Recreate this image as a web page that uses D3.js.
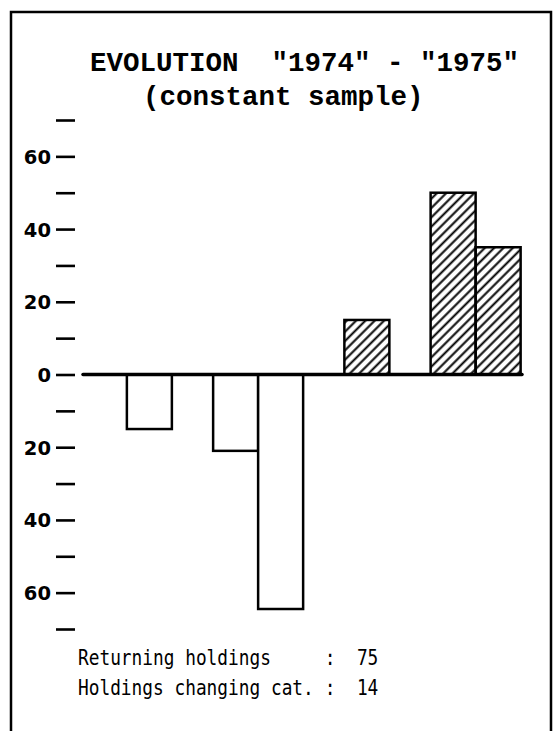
<!DOCTYPE html>
<html>
<head>
<meta charset="utf-8">
<script src="https://cdn.jsdelivr.net/npm/d3@7"></script>
<style>
  html, body { margin: 0; padding: 0; background: #fff; }
  svg { display: block; }
</style>
</head>
<body>
<div id="chart"></div>
<script>
// data
const categories = ["I", "II", "III", "IV"];
const firstSeries = [-15, -21, 15, 50];
const secondSeries = [null, -64.5, null, 35];

const tickValues = [70, 60, 50, 40, 30, 20, 10, 0, -10, -20, -30, -40, -50, -60, -70];
const tickLabels = [60, 40, 20, 0, -20, -40, -60];

const titleLines = ['EVOLUTION  "1974" - "1975"', '(constant sample)'];
const footerLabels = ["Returning holdings", "Holdings changing cat."];
const footerValues = [75, 14];

const width = 554, height = 731;
const barWidth = 45;

let svg = d3.select("#chart").append("svg")
    .attr("width", width)
    .attr("height", height);

// diagonal hatching for the positive bars
svg.append("defs").append("pattern")
    .attr("id", "hatch")
    .attr("patternUnits", "userSpaceOnUse")
    .attr("width", 6.6)
    .attr("height", 6.6)
    .attr("patternTransform", "rotate(45)")
  .append("line")
    .attr("x1", 3.3).attr("y1", 0)
    .attr("x2", 3.3).attr("y2", 6.6)
    .attr("stroke", "#000")
    .attr("stroke-width", 2);

// frame (bottom edge is cut off in the scan)
svg.append("path")
    .attr("d", "M11,731 V12 H551 V731")
    .style("fill", "none")
    .style("stroke", "#000")
    .style("stroke-width", 2.5);

let x = d3.scaleBand()
    .domain(categories)
    .range([95, 530]);

let y = d3.scaleLinear()
    .domain([-70, 70])
    .range([629, 120]);

// y axis: unlabeled ticks every 10, absolute values every 20
let yAxis = d3.axisLeft(y)
    .tickValues(tickValues)
    .tickSize(19)
    .tickPadding(0)
    .tickFormat(function(d) { return tickLabels.indexOf(d) > -1 ? Math.abs(d) : ""; });

let gAxis = svg.append("g")
    .attr("transform", "translate(75,0)")
    .call(yAxis);
gAxis.select(".domain").remove();
gAxis.selectAll(".tick line")
    .attr("stroke", "#000")
    .attr("stroke-width", 2.6);
gAxis.selectAll(".tick text")
    .attr("x", -24)
    .attr("dy", "0.36em")
    .attr("text-anchor", "end")
    .attr("fill", "#000")
    .style("font-family", "'DejaVu Sans', sans-serif")
    .style("font-weight", "bold")
    .style("font-size", "19.5px");

// bars, one or two per category, centred on the category
let bars = [];
categories.forEach(function(c, i) {
    let vals = [firstSeries[i], secondSeries[i]].filter(function(v) { return v !== null; });
    vals.forEach(function(v, j) {
        bars.push({cat: c, value: v, index: j, count: vals.length});
    });
});

svg.selectAll(".bar")
    .data(bars)
  .enter().append("rect")
    .attr("class", "bar")
    .attr("x", function(d) { return x(d.cat) + x.bandwidth() / 2 - d.count * barWidth / 2 + d.index * barWidth; })
    .attr("y", function(d) { return y(Math.max(0, d.value)); })
    .attr("width", barWidth)
    .attr("height", function(d) { return Math.abs(y(d.value) - y(0)); })
    .style("fill", function(d) { return d.value > 0 ? "url(#hatch)" : "#fff"; })
    .style("stroke", "#000")
    .style("stroke-width", 2.5);

// zero line
svg.append("line")
    .attr("x1", 83)
    .attr("x2", 522)
    .attr("y1", y(0))
    .attr("y2", y(0))
    .style("stroke", "#000")
    .style("stroke-width", 3.5)
    .style("stroke-linecap", "round");

// title
svg.selectAll(".title")
    .data(titleLines)
  .enter().append("text")
    .attr("class", "title")
    .attr("x", function(d, i) { return i === 0 ? 90 : 143; })
    .attr("y", function(d, i) { return i === 0 ? 71 : 105; })
    .attr("xml:space", "preserve")
    .style("white-space", "pre")
    .style("font-family", "'Liberation Mono', monospace")
    .style("font-weight", "bold")
    .style("font-size", "27.5px")
    .text(function(d) { return d; });

// footer notes, narrow printer font
let pitch = 0.602 * 22;
let footer = svg.selectAll(".footer")
    .data(footerLabels)
  .enter().append("g")
    .attr("class", "footer")
    .attr("transform", function(d, i) { return "translate(78," + (665 + i * 30) + ") scale(0.81,1)"; })
    .style("font-family", "'DejaVu Sans Mono', monospace")
    .style("font-size", "22px");

footer.append("text").attr("x", 0).text(function(d) { return d; });
footer.append("text").attr("x", 23 * pitch).text(":");
footer.append("text").attr("x", 26 * pitch).text(function(d, i) { return footerValues[i]; });
</script>
</body>
</html>
